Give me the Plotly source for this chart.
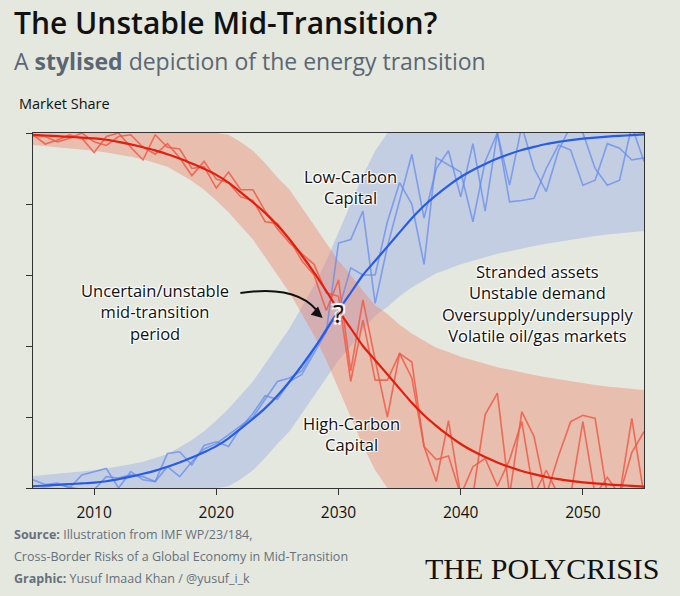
import plotly.graph_objects as go

years = list(range(2005, 2056))

# Smooth (central) paths
high_carbon_mean = [0.995, 0.993, 0.991, 0.989, 0.987, 0.985, 0.981, 0.975, 0.968, 0.960,
                    0.951, 0.940, 0.928, 0.914, 0.899, 0.882, 0.860, 0.833, 0.805, 0.775,
                    0.740, 0.700, 0.655, 0.607, 0.555, 0.500, 0.450, 0.400, 0.360, 0.320,
                    0.280, 0.240, 0.205, 0.175, 0.148, 0.124, 0.104, 0.087, 0.072, 0.059,
                    0.048, 0.039, 0.031, 0.025, 0.020, 0.016, 0.013, 0.010, 0.008, 0.006, 0.004]
low_carbon_mean = [0.005, 0.007, 0.009, 0.011, 0.013, 0.015, 0.019, 0.025, 0.032, 0.040,
                   0.049, 0.060, 0.072, 0.086, 0.101, 0.118, 0.140, 0.167, 0.195, 0.225,
                   0.260, 0.300, 0.345, 0.393, 0.445, 0.500, 0.550, 0.600, 0.640, 0.680,
                   0.720, 0.760, 0.795, 0.825, 0.852, 0.876, 0.896, 0.913, 0.928, 0.941,
                   0.952, 0.961, 0.969, 0.975, 0.980, 0.984, 0.987, 0.990, 0.992, 0.994, 0.996]

# Uncertainty bands
high_band_upper = [1.0, 1.0, 1.0, 1.0, 1.0, 1.0, 1.0, 1.0, 1.0, 1.0,
                   1.0, 1.0, 1.0, 1.0, 1.0, 1.0, 0.995, 0.975, 0.950, 0.915,
                   0.875, 0.840, 0.790, 0.740, 0.690, 0.640, 0.600, 0.555, 0.515, 0.490,
                   0.460, 0.435, 0.415, 0.395, 0.383, 0.370, 0.360, 0.350, 0.340, 0.333,
                   0.325, 0.318, 0.312, 0.306, 0.300, 0.295, 0.290, 0.286, 0.282, 0.279, 0.276]
high_band_lower = [0.966, 0.963, 0.960, 0.957, 0.953, 0.950, 0.945, 0.940, 0.933, 0.926,
                   0.916, 0.905, 0.885, 0.865, 0.840, 0.810, 0.777, 0.740, 0.700, 0.650,
                   0.600, 0.550, 0.490, 0.430, 0.360, 0.280, 0.200, 0.120, 0.050, 0.0,
                   0.0, 0.0, 0.0, 0.0, 0.0, 0.0, 0.0, 0.0, 0.0, 0.0,
                   0.0, 0.0, 0.0, 0.0, 0.0, 0.0, 0.0, 0.0, 0.0, 0.0, 0.0]
low_band_upper = [0.034, 0.037, 0.040, 0.043, 0.047, 0.050, 0.055, 0.060, 0.067, 0.074,
                  0.084, 0.095, 0.115, 0.135, 0.160, 0.190, 0.223, 0.260, 0.300, 0.350,
                  0.400, 0.450, 0.510, 0.570, 0.640, 0.720, 0.800, 0.880, 0.950, 1.0,
                  1.0, 1.0, 1.0, 1.0, 1.0, 1.0, 1.0, 1.0, 1.0, 1.0,
                  1.0, 1.0, 1.0, 1.0, 1.0, 1.0, 1.0, 1.0, 1.0, 1.0, 1.0]
low_band_lower = [0.0, 0.0, 0.0, 0.0, 0.0, 0.0, 0.0, 0.0, 0.0, 0.0,
                  0.0, 0.0, 0.0, 0.0, 0.0, 0.0, 0.005, 0.025, 0.050, 0.085,
                  0.125, 0.160, 0.210, 0.260, 0.310, 0.360, 0.400, 0.445, 0.485, 0.510,
                  0.540, 0.565, 0.585, 0.605, 0.617, 0.630, 0.640, 0.650, 0.660, 0.667,
                  0.675, 0.682, 0.688, 0.694, 0.700, 0.705, 0.710, 0.714, 0.718, 0.721, 0.724]

# Volatile realisations
high_noisy_a = [0.995, 0.969, 0.980, 0.995, 0.985, 0.945, 0.990, 1.000, 0.960, 0.924,
                0.995, 0.960, 0.955, 0.900, 0.905, 0.845, 0.890, 0.840, 0.840, 0.780,
                0.730, 0.690, 0.660, 0.630, 0.550, 0.540, 0.300, 0.473, 0.304, 0.304,
                0.379, 0.355, 0.117, 0.018, 0.190, -0.02, 0.060, 0.083, 0.005, 0.080,
                0.187, -0.02, 0.050, -0.02, -0.02, 0.187, -0.02, 0.030, -0.02, 0.100, 0.159]
high_noisy_b = [0.990, 0.990, 0.975, 0.985, 1.000, 0.975, 0.965, 0.990, 0.995, 0.960,
                0.940, 0.970, 0.930, 0.880, 0.920, 0.870, 0.860, 0.820, 0.810, 0.750,
                0.745, 0.700, 0.640, 0.600, 0.500, 0.586, 0.330, 0.530, 0.360, 0.200,
                0.379, 0.310, 0.117, 0.080, 0.090, -0.02, -0.02, 0.207, 0.267, -0.02,
                0.215, 0.145, -0.02, 0.090, 0.187, 0.205, 0.196, -0.02, -0.02, 0.196, -0.02]
low_noisy_a = [0.023, 0.010, 0.014, 0.000, 0.037, 0.046, 0.055, 0.000, 0.046, 0.023,
               0.018, 0.097, 0.102, 0.065, 0.120, 0.130, 0.117, 0.170, 0.210, 0.260,
               0.250, 0.300, 0.320, 0.380, 0.440, 0.690, 0.700, 0.780, 0.520, 0.680,
               0.810, 0.940, 0.760, 0.900, 0.950, 0.820, 0.970, 0.780, 1.000, 0.806,
               0.810, 0.816, 0.900, 0.966, 0.952, 0.853, 0.867, 0.970, 0.957, 0.924, 0.930]
low_noisy_b = [0.006, 0.003, 0.010, 0.003, -0.005, -0.005, 0.032, 0.028, 0.037, 0.032,
               0.018, 0.060, 0.032, 0.074, 0.110, 0.125, 0.150, 0.175, 0.200, 0.250,
               0.300, 0.310, 0.330, 0.390, 0.450, 0.500, 0.620, 0.600, 0.600, 0.750,
               0.860, 0.800, 0.630, 0.930, 0.910, 0.890, 0.750, 0.920, 1.000, 0.853,
               1.020, 0.900, 0.835, 0.950, 1.020, 1.000, 0.900, 0.853, 0.867, 1.020, 0.920]

x_ticks = [2010, 2020, 2030, 2040, 2050]
y_ticks = [0, 0.2, 0.4, 0.6, 0.8, 1.0]

BG = "#e5e8df"
FONT = "Open Sans"
RED = "rgb(232,28,12)"
BLUE = "rgb(40,92,232)"
RED_NOISE = "rgba(238,90,70,0.85)"
BLUE_NOISE = "rgba(95,135,238,0.7)"
RED_BAND = "rgba(237,132,110,0.42)"
BLUE_BAND = "rgba(101,132,235,0.26)"

fig = go.Figure()

fig.add_trace(go.Scatter(x=years, y=low_band_lower, mode="lines", line=dict(width=0),
                         hoverinfo="skip"))
fig.add_trace(go.Scatter(x=years, y=low_band_upper, mode="lines", line=dict(width=0),
                         fill="tonexty", fillcolor=BLUE_BAND, hoverinfo="skip"))
fig.add_trace(go.Scatter(x=years, y=high_band_lower, mode="lines", line=dict(width=0),
                         hoverinfo="skip"))
fig.add_trace(go.Scatter(x=years, y=high_band_upper, mode="lines", line=dict(width=0),
                         fill="tonexty", fillcolor=RED_BAND, hoverinfo="skip"))

for series in (low_noisy_a, low_noisy_b):
    fig.add_trace(go.Scatter(x=years, y=series, mode="lines",
                             line=dict(color=BLUE_NOISE, width=1.6)))
for series in (high_noisy_a, high_noisy_b):
    fig.add_trace(go.Scatter(x=years, y=series, mode="lines",
                             line=dict(color=RED_NOISE, width=1.6)))

fig.add_trace(go.Scatter(x=years, y=low_carbon_mean, mode="lines",
                         line=dict(color=BLUE, width=2.2, shape="spline", smoothing=0.6)))
fig.add_trace(go.Scatter(x=years, y=high_carbon_mean, mode="lines",
                         line=dict(color=RED, width=2.2, shape="spline", smoothing=0.6)))

halo = "1px 1px 1px #ffffff, -1px -1px 1px #ffffff, 1px -1px 1px #ffffff, -1px 1px 1px #ffffff"
lab_font = dict(family=FONT, size=16.5, color="#111111", shadow=halo)

annotations = [
    dict(text="The Unstable Mid-Transition?", x=-0.034, y=1.312, xref="paper", yref="paper",
         xanchor="left", yanchor="middle", showarrow=False,
         font=dict(family=FONT, size=30, color="#111111", weight=600)),
    dict(text="A <b>stylised</b> depiction of the energy transition", x=-0.034, y=1.203,
         xref="paper", yref="paper", xanchor="left", yanchor="middle", showarrow=False,
         font=dict(family=FONT, size=23, color="#5b6673")),
    dict(text="Market Share", x=-0.027, y=1.083, xref="paper", yref="paper",
         xanchor="left", yanchor="middle", showarrow=False,
         font=dict(family=FONT, size=14.5, color="#111111")),
    dict(text="Low-Carbon<br>Capital", x=2031.0, y=0.849, xref="x", yref="y",
         showarrow=False, font=lab_font, borderpad=0),
    dict(text="Uncertain/unstable<br>mid-transition<br>period", x=2015.0, y=0.497,
         xref="x", yref="y", showarrow=False, font=lab_font, borderpad=0),
    dict(text="Stranded assets<br>Unstable demand<br>Oversupply/undersupply<br>Volatile oil/gas markets",
         x=2046.3, y=0.521, xref="x", yref="y", showarrow=False, font=lab_font, borderpad=0),
    dict(text="High-Carbon<br>Capital", x=2031.1, y=0.152, xref="x", yref="y",
         showarrow=False, font=lab_font, borderpad=0),
    dict(text="?", x=2030.0, y=0.493, xref="x", yref="y", showarrow=False,
         font=dict(family=FONT, size=25, color="#111111",
                   shadow="2px 2px 1px #ffffff, -2px -2px 1px #ffffff, 2px -2px 1px #ffffff, -2px 2px 1px #ffffff")),
    dict(text="", x=2028.7, y=0.479, xref="x", yref="y", showarrow=True,
         ax=-9, ay=-8, arrowhead=2, arrowsize=1.1, arrowwidth=2, arrowcolor="#111111"),
    dict(text="<b>Source:</b> Illustration from IMF WP/23/184,", x=-0.034, y=-0.132,
         xref="paper", yref="paper", xanchor="left", yanchor="middle", showarrow=False,
         font=dict(family=FONT, size=12.5, color="#66707c")),
    dict(text="Cross-Border Risks of a Global Economy in Mid-Transition", x=-0.034, y=-0.194,
         xref="paper", yref="paper", xanchor="left", yanchor="middle", showarrow=False,
         font=dict(family=FONT, size=12.5, color="#66707c")),
    dict(text="<b>Graphic:</b> Yusuf Imaad Khan / @yusuf_i_k", x=-0.034, y=-0.254,
         xref="paper", yref="paper", xanchor="left", yanchor="middle", showarrow=False,
         font=dict(family=FONT, size=12.5, color="#66707c")),
    dict(text="THE POLYCRISIS", x=1.03, y=-0.227, xref="paper", yref="paper",
         xanchor="right", yanchor="middle", showarrow=False,
         font=dict(family="Liberation Serif", size=30, color="#111111")),
]

shapes = [
    dict(type="path", xref="x", yref="y",
         path="M 2021.97,0.549 Q 2026.9,0.575 2028.55,0.485",
         line=dict(color="#111111", width=2)),
]

fig.update_layout(
    width=680, height=596,
    margin=dict(l=33, r=36, t=133, b=108),
    paper_bgcolor=BG, plot_bgcolor=BG,
    showlegend=False,
    annotations=annotations,
    shapes=shapes,
    font=dict(family=FONT, color="#111111"),
    xaxis=dict(range=[2005, 2055], tickvals=x_ticks, ticks="outside", ticklen=6,
               tickcolor="#333333", tickwidth=1.2, showline=True, linecolor="#333333",
               linewidth=1.3, mirror=True, showgrid=False, zeroline=False,
               ticklabelstandoff=4,
               tickfont=dict(family=FONT, size=15.5, color="#111111")),
    yaxis=dict(range=[0, 1], tickvals=y_ticks, showticklabels=False, ticks="outside",
               ticklen=6, tickcolor="#333333", tickwidth=1.2, showline=True,
               linecolor="#333333", linewidth=1.3, mirror=True, showgrid=False,
               zeroline=False),
)

fig.write_html("out.html", config={"displayModeBar": False},
               post_script="document.body.style.margin='0';document.body.style.padding='0';"
                           "document.body.style.background='" + BG + "';")
